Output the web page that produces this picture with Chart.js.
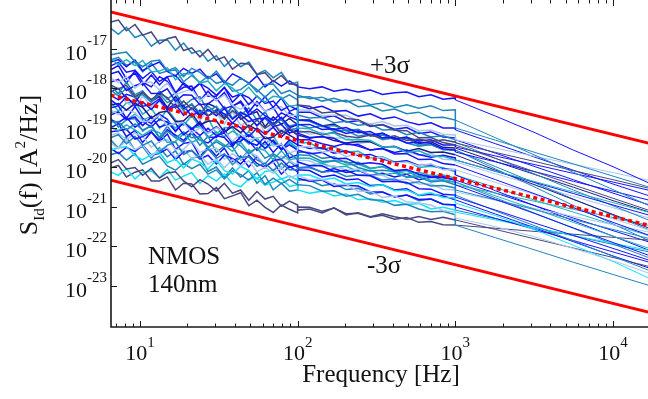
<!DOCTYPE html>
<html>
<head>
<meta charset="utf-8">
<title>NMOS 140nm drain current noise</title>
<script src="https://cdn.jsdelivr.net/npm/chart.js@4.4.1/dist/chart.umd.min.js"></script>
<style>
  html, body { margin: 0; padding: 0; background: #fff; overflow: hidden; }
  canvas { display: block; }
</style>
</head>
<body>
<canvas id="psdChart" width="648" height="399"></canvas>
<script>
// frequency grid [Hz]; 100 and 1000 appear twice where the measurement bands join
const freqHz = [6.5, 7.3, 8.2, 9.3, 10.4, 11.8, 13.3, 14.9, 16.8, 18.9, 21.3, 24, 27, 30.5, 34.3, 38.6, 43.5, 49, 55.2, 62.1, 70, 78.8, 88.7, 100,
  100, 119, 143, 170, 203, 242, 289, 345, 412, 492, 587, 700, 836, 1000,
  1000, 1800, 3200, 5600, 10000, 17000];

// log10 of S_Id [A^2/Hz], one array per device
const s01 = [-16.32, -16.27, -16.54, -16.38, -16.65, -16.57, -16.87, -16.74, -16.69, -17.04, -16.97, -17.20, -17.01, -17.28, -17.20, -17.51, -17.36, -17.38, -17.65, -17.60, -17.83, -17.67, -17.88, -17.91,
  -18.42, -18.45, -18.62, -18.59, -18.76, -18.79, -18.95, -18.92, -19.06, -19.07, -19.25, -19.24, -19.37, -19.43,
  -19.43, -19.77, -20.11, -20.44, -20.78, -21.09];
const s02 = [-16.47, -16.63, -16.45, -16.71, -16.63, -16.93, -16.78, -16.77, -17.03, -16.85, -17.11, -17.04, -17.31, -17.17, -17.44, -17.25, -17.45, -17.33, -17.64, -17.54, -17.73, -17.59, -17.89, -17.84,
  -18.17, -18.26, -18.22, -18.34, -18.30, -18.46, -18.43, -18.57, -18.52, -18.64, -18.60, -18.74, -18.73, -18.80,
  -19.00, -19.31, -19.62, -19.91, -20.22, -20.50];
const s03 = [-17.15, -17.11, -17.08, -17.32, -17.45, -17.31, -17.28, -17.55, -17.47, -17.70, -17.49, -17.59, -17.76, -17.56, -17.83, -17.92, -17.74, -17.86, -18.09, -17.90, -17.89, -18.13, -18.05, -18.17,
  -18.22, -18.21, -18.32, -18.25, -18.34, -18.28, -18.41, -18.37, -18.48, -18.41, -18.50, -18.44, -18.56, -18.54,
  -18.80, -19.25, -19.69, -20.12, -20.56, -20.97];
const s04 = [-17.23, -17.40, -17.27, -17.42, -17.29, -17.58, -17.56, -17.48, -17.78, -17.63, -17.62, -17.87, -17.81, -18.06, -17.87, -17.99, -18.16, -17.97, -18.21, -18.34, -18.20, -18.22, -18.45, -18.42,
  -19.00, -19.02, -19.15, -19.13, -19.30, -19.29, -19.32, -19.48, -19.47, -19.62, -19.58, -19.71, -19.72, -19.81,
  -19.81, -20.09, -20.36, -20.62, -20.89, -21.14];
const s05 = [-17.33, -17.27, -17.45, -17.28, -17.55, -17.42, -17.33, -17.57, -17.68, -17.49, -17.62, -17.51, -17.74, -17.63, -17.86, -17.63, -17.73, -17.87, -17.68, -17.96, -17.80, -17.94, -17.81, -17.95,
  -17.96, -18.01, -17.96, -18.07, -18.02, -18.09, -18.04, -18.15, -18.11, -18.09, -18.21, -18.16, -18.27, -18.24,
  -18.29, -18.70, -19.12, -19.56, -19.98, -20.40];
const s06 = [-17.43, -17.34, -17.59, -17.54, -17.75, -17.57, -17.82, -17.70, -17.67, -17.90, -18.05, -17.87, -17.99, -18.17, -17.98, -18.22, -18.14, -18.41, -18.19, -18.38, -18.32, -18.56, -18.44, -18.54,
  -18.80, -18.81, -18.94, -19.04, -18.99, -19.12, -19.09, -19.25, -19.25, -19.38, -19.36, -19.39, -19.53, -19.56,
  -19.61, -19.86, -20.11, -20.35, -20.60, -20.83];
const s07 = [-17.73, -17.85, -17.70, -17.99, -17.84, -17.84, -18.04, -17.86, -18.16, -18.08, -18.02, -18.31, -18.15, -18.30, -18.16, -18.43, -18.53, -18.37, -18.37, -18.58, -18.52, -18.46, -18.69, -18.67,
  -18.54, -18.55, -18.69, -18.67, -18.68, -18.82, -18.90, -18.84, -18.95, -18.93, -19.07, -19.05, -19.16, -19.18,
  -19.30, -19.51, -19.72, -19.92, -20.13, -20.33];
const s08 = [-17.84, -17.77, -18.05, -17.93, -17.86, -18.13, -18.12, -18.01, -18.33, -18.16, -18.17, -18.41, -18.39, -18.24, -18.51, -18.44, -18.35, -18.67, -18.52, -18.69, -18.81, -18.62, -18.72, -18.80,
  -19.13, -19.24, -19.22, -19.26, -19.42, -19.42, -19.56, -19.52, -19.66, -19.65, -19.80, -19.79, -19.90, -19.94,
  -19.94, -20.31, -20.67, -21.02, -21.39, -21.72];
const s09 = [-17.91, -18.01, -17.92, -18.21, -18.10, -18.28, -18.12, -18.23, -18.50, -18.32, -18.52, -18.38, -18.69, -18.59, -18.78, -18.56, -18.73, -18.99, -18.80, -19.01, -18.86, -19.15, -19.00, -19.18,
  -19.10, -19.09, -19.18, -19.11, -19.21, -19.25, -19.18, -19.26, -19.20, -19.32, -19.28, -19.35, -19.30, -19.36,
  -19.38, -19.62, -19.85, -20.08, -20.31, -20.53];
const s10 = [-18.29, -18.43, -18.21, -18.44, -18.34, -18.53, -18.30, -18.51, -18.40, -18.68, -18.49, -18.71, -18.53, -18.69, -18.51, -18.78, -18.61, -18.71, -18.94, -18.73, -18.90, -18.73, -18.99, -18.92,
  -19.30, -19.30, -19.40, -19.47, -19.39, -19.46, -19.56, -19.52, -19.62, -19.56, -19.67, -19.74, -19.69, -19.76,
  -19.81, -20.10, -20.38, -20.66, -20.95, -21.21];
const s11 = [-18.42, -18.38, -18.55, -18.38, -18.48, -18.75, -18.61, -18.57, -18.84, -18.82, -18.63, -18.92, -18.83, -18.82, -19.11, -18.96, -19.12, -18.93, -19.05, -19.27, -19.23, -19.06, -19.18, -19.30,
  -19.18, -19.26, -19.21, -19.32, -19.38, -19.34, -19.35, -19.48, -19.47, -19.59, -19.52, -19.62, -19.61, -19.68,
  -19.68, -20.07, -20.44, -20.81, -21.19, -21.54];
const s12 = [-18.54, -18.66, -18.53, -18.61, -18.85, -18.81, -18.67, -18.95, -18.87, -18.86, -19.14, -18.99, -19.14, -18.99, -19.09, -19.34, -19.14, -19.31, -19.25, -19.23, -19.46, -19.41, -19.63, -19.56,
  -19.48, -19.47, -19.61, -19.58, -19.72, -19.66, -19.77, -19.74, -19.89, -19.86, -19.96, -19.91, -20.06, -20.06,
  -20.06, -20.38, -20.69, -21.00, -21.30, -21.59];
const s13 = [-18.67, -18.60, -18.79, -18.72, -18.94, -18.72, -18.98, -18.91, -18.88, -19.17, -19.01, -19.19, -19.01, -19.19, -19.13, -19.38, -19.34, -19.17, -19.33, -19.52, -19.31, -19.55, -19.43, -19.56,
  -19.56, -19.65, -19.62, -19.78, -19.77, -19.91, -19.88, -19.92, -20.08, -20.05, -20.17, -20.24, -20.23, -20.32,
  -20.44, -20.81, -21.17, -21.53, -21.90, -22.23];
const s14 = [-18.85, -18.84, -19.05, -18.90, -19.05, -18.95, -19.26, -19.08, -19.25, -19.10, -19.25, -19.22, -19.49, -19.35, -19.47, -19.33, -19.45, -19.66, -19.50, -19.77, -19.65, -19.79, -19.63, -19.81,
  -19.68, -19.70, -19.85, -19.83, -19.85, -20.00, -20.09, -20.07, -20.10, -20.25, -20.24, -20.37, -20.34, -20.44,
  -20.57, -20.82, -21.07, -21.32, -21.57, -21.80];
const s15 = [-18.98, -19.07, -18.92, -19.05, -19.19, -19.05, -19.12, -19.37, -19.34, -19.15, -19.36, -19.28, -19.52, -19.30, -19.43, -19.59, -19.36, -19.62, -19.50, -19.57, -19.80, -19.58, -19.81, -19.76,
  -19.76, -19.77, -19.89, -19.83, -19.94, -19.92, -20.04, -19.97, -20.10, -20.16, -20.12, -20.21, -20.19, -20.27,
  -20.37, -20.72, -21.06, -21.39, -21.74, -22.05];
const s16 = [-19.10, -19.07, -19.03, -19.28, -19.22, -19.10, -19.31, -19.04, -19.18, -19.32, -19.10, -19.31, -19.38, -19.20, -19.24, -19.47, -19.21, -19.37, -19.44, -19.22, -19.35, -19.53, -19.30, -19.43,
  -19.86, -19.96, -19.96, -20.11, -20.07, -20.20, -20.21, -20.36, -20.35, -20.38, -20.54, -20.55, -20.68, -20.70,
  -20.75, -21.08, -21.41, -21.72, -22.05, -22.35];
const s17 = [-19.25, -19.17, -19.40, -19.21, -19.44, -19.33, -19.60, -19.44, -19.35, -19.67, -19.56, -19.76, -19.53, -19.77, -19.65, -19.93, -19.74, -19.73, -19.97, -19.89, -20.08, -19.89, -20.06, -20.06,
  -20.01, -20.00, -20.12, -20.09, -20.23, -20.19, -20.20, -20.32, -20.29, -20.41, -20.36, -20.47, -20.46, -20.52,
  -20.70, -21.10, -21.48, -21.86, -22.25, -22.61];
const s18 = [-19.38, -19.52, -19.31, -19.55, -19.44, -19.72, -19.54, -19.51, -19.74, -19.54, -19.77, -19.68, -19.92, -19.77, -20.01, -19.80, -19.97, -19.83, -20.11, -19.99, -20.15, -19.99, -20.26, -20.19,
  -20.20, -20.32, -20.30, -20.43, -20.43, -20.60, -20.60, -20.76, -20.72, -20.87, -20.90, -20.95, -21.09, -21.13,
  -21.28, -21.50, -21.76, -22.05, -22.36, -22.68];
const s19 = [-19.56, -19.51, -19.47, -19.70, -19.81, -19.67, -19.62, -19.88, -19.79, -20.01, -19.79, -19.87, -20.04, -19.82, -20.08, -20.17, -19.97, -20.08, -20.29, -20.10, -20.07, -20.30, -20.21, -20.32,
  -20.19, -20.19, -20.31, -20.27, -20.42, -20.38, -20.48, -20.44, -20.59, -20.57, -20.70, -20.64, -20.76, -20.77,
  -20.90, -21.22, -21.58, -21.97, -22.38, -22.81];
const s20 = [-19.51, -19.65, -19.49, -19.60, -19.43, -19.69, -19.64, -19.53, -19.80, -19.61, -19.57, -19.79, -19.69, -19.91, -19.69, -19.77, -19.91, -19.69, -19.90, -20.00, -19.82, -19.80, -20.00, -19.94,
  -20.27, -20.35, -20.32, -20.48, -20.45, -20.47, -20.62, -20.62, -20.75, -20.70, -20.81, -20.80, -20.93, -20.95,
  -21.00, -21.29, -21.57, -21.85, -22.14, -22.40];
const s21 = [-19.68, -19.62, -19.82, -19.65, -19.92, -19.81, -19.72, -19.96, -20.07, -19.90, -20.03, -19.92, -20.17, -20.06, -20.29, -20.08, -20.18, -20.32, -20.13, -20.43, -20.27, -20.41, -20.30, -20.44,
  -20.44, -20.46, -20.60, -20.59, -20.73, -20.68, -20.82, -20.83, -20.96, -20.93, -21.05, -21.12, -21.11, -21.20,
  -21.46, -21.78, -22.09, -22.40, -22.71, -22.99];
const s22 = [-19.89, -19.80, -20.04, -20.00, -20.20, -20.02, -20.27, -20.14, -20.11, -20.34, -20.49, -20.31, -20.42, -20.60, -20.40, -20.65, -20.57, -20.83, -20.61, -20.80, -20.73, -20.98, -20.85, -20.95,
  -21.08, -21.05, -21.15, -21.02, -21.20, -21.15, -21.25, -21.17, -21.25, -21.31, -21.24, -21.32, -21.26, -21.33,
  -21.33, -21.57, -21.81, -22.04, -22.28, -22.51];
const s23 = [-20.11, -20.20, -20.03, -20.29, -20.12, -20.09, -20.26, -20.05, -20.32, -20.22, -20.13, -20.40, -20.21, -20.34, -20.17, -20.41, -20.49, -20.29, -20.27, -20.45, -20.37, -20.28, -20.48, -20.44,
  -20.57, -20.65, -20.60, -20.72, -20.67, -20.82, -20.79, -20.88, -20.84, -20.94, -20.91, -21.05, -21.01, -21.08,
  -21.13, -21.33, -21.53, -21.72, -21.92, -22.10];
const s24 = [-20.01, -19.95, -20.24, -20.12, -20.06, -20.34, -20.34, -20.24, -20.57, -20.40, -20.42, -20.67, -20.66, -20.51, -20.79, -20.72, -20.64, -20.97, -20.83, -21.01, -21.14, -20.95, -21.06, -21.15,
  -21.00, -21.01, -21.11, -21.03, -21.17, -21.16, -21.26, -21.21, -21.31, -21.27, -21.39, -21.37, -21.45, -21.46,
  -21.46, -21.54, -21.62, -21.69, -21.77, -21.84];
const s25 = [-18.80, -18.86, -18.73, -18.98, -18.84, -18.97, -18.78, -18.85, -19.08, -18.86, -19.03, -18.84, -19.12, -18.97, -19.13, -18.87, -19.00, -19.22, -19.00, -19.16, -18.98, -19.23, -19.04, -19.18,
  -18.92, -18.91, -19.04, -19.02, -19.14, -19.08, -19.19, -19.13, -19.28, -19.24, -19.33, -19.30, -19.43, -19.43,
  -19.48, -19.71, -19.93, -20.15, -20.37, -20.58];
const s26 = [-18.04, -18.19, -17.99, -18.24, -18.15, -18.35, -18.14, -18.36, -18.26, -18.56, -18.39, -18.62, -18.45, -18.62, -18.46, -18.75, -18.59, -18.70, -18.95, -18.75, -18.93, -18.78, -19.06, -19.00,
  -18.67, -18.75, -18.73, -18.87, -18.83, -18.93, -18.90, -19.05, -19.04, -19.17, -19.11, -19.23, -19.20, -19.30,
  -19.36, -19.77, -20.17, -20.57, -20.97, -21.34];
const s27 = [-19.18, -19.13, -19.30, -19.13, -19.22, -19.49, -19.34, -19.29, -19.55, -19.54, -19.34, -19.62, -19.53, -19.51, -19.79, -19.65, -19.80, -19.60, -19.71, -19.93, -19.88, -19.71, -19.83, -19.94,
  -19.81, -19.83, -19.98, -19.96, -20.07, -20.04, -20.20, -20.20, -20.34, -20.29, -20.42, -20.42, -20.55, -20.57,
  -20.62, -20.83, -21.04, -21.24, -21.45, -21.64];
const s28 = [-18.17, -18.29, -18.15, -18.22, -18.45, -18.41, -18.26, -18.54, -18.46, -18.43, -18.71, -18.55, -18.70, -18.54, -18.64, -18.88, -18.67, -18.84, -18.77, -18.75, -18.97, -18.91, -19.13, -19.05,
  -19.43, -19.52, -19.50, -19.64, -19.58, -19.70, -19.67, -19.79, -19.87, -19.83, -19.95, -19.93, -20.04, -20.06,
  -20.19, -20.59, -20.97, -21.35, -21.74, -22.10];
const s29 = [-17.28, -17.21, -17.41, -17.34, -17.58, -17.36, -17.62, -17.56, -17.53, -17.83, -17.67, -17.85, -17.69, -17.87, -17.81, -18.07, -18.03, -17.87, -18.03, -18.22, -18.03, -18.27, -18.16, -18.29,
  -18.80, -18.83, -18.97, -18.94, -19.05, -19.04, -19.21, -19.18, -19.30, -19.27, -19.43, -19.42, -19.53, -19.56,
  -19.56, -20.04, -20.50, -20.96, -21.43, -21.86];
const s30 = [-18.60, -18.59, -18.80, -18.65, -18.80, -18.70, -19.01, -18.83, -19.00, -18.85, -19.00, -18.97, -19.24, -19.10, -19.22, -19.08, -19.20, -19.41, -19.25, -19.52, -19.40, -19.54, -19.38, -19.56,
  -19.86, -19.95, -19.90, -20.00, -19.97, -20.10, -20.08, -20.19, -20.14, -20.24, -20.19, -20.33, -20.31, -20.37,
  -20.44, -20.65, -20.86, -21.06, -21.27, -21.47];
const s31 = [-17.53, -17.42, -17.76, -17.61, -17.92, -17.66, -17.91, -17.71, -18.10, -17.97, -17.94, -18.31, -18.07, -18.30, -18.10, -18.46, -18.32, -18.60, -18.33, -18.58, -18.48, -18.80, -18.61, -18.75,
  -18.60, -18.60, -18.74, -18.69, -18.85, -18.82, -18.96, -18.91, -19.03, -18.99, -19.14, -19.10, -19.23, -19.25,
  -19.30, -19.64, -19.98, -20.31, -20.65, -20.95];
const s32 = [-17.94, -18.13, -17.84, -18.16, -18.06, -18.34, -18.06, -18.27, -18.11, -18.44, -18.28, -18.21, -18.58, -18.45, -18.70, -18.45, -18.68, -18.49, -18.80, -18.59, -18.94, -18.76, -18.95, -18.90,
  -18.90, -19.00, -18.94, -19.08, -19.06, -19.21, -19.15, -19.30, -19.25, -19.38, -19.46, -19.42, -19.55, -19.56,
  -19.56, -19.98, -20.39, -20.80, -21.21, -21.58];
const s33 = [-18.49, -18.44, -18.76, -18.46, -18.76, -18.89, -18.65, -18.78, -19.09, -18.85, -19.04, -18.89, -19.23, -19.24, -19.03, -19.43, -19.23, -19.33, -19.57, -19.34, -19.62, -19.40, -19.76, -19.68,
  -20.01, -19.99, -20.12, -20.03, -20.13, -20.07, -20.20, -20.15, -20.24, -20.17, -20.31, -20.25, -20.26, -20.32,
  -20.32, -20.65, -20.97, -21.28, -21.60, -21.89];
const s34 = [-18.75, -18.98, -18.79, -18.76, -19.08, -18.93, -19.24, -18.95, -19.24, -19.37, -19.14, -19.44, -19.21, -19.61, -19.46, -19.47, -19.81, -19.55, -19.81, -19.91, -19.68, -20.04, -19.85, -20.01,
  -19.61, -19.62, -19.77, -19.73, -19.89, -19.87, -20.02, -19.98, -20.11, -20.08, -20.24, -20.20, -20.34, -20.37,
  -20.37, -20.77, -21.16, -21.54, -21.94, -22.29];
const s35 = [-18.19, -18.10, -18.36, -18.48, -18.19, -18.45, -18.32, -18.61, -18.33, -18.65, -18.54, -18.81, -18.53, -18.62, -18.90, -18.59, -18.93, -18.83, -18.75, -19.13, -18.89, -19.08, -18.94, -19.10,
  -19.05, -19.16, -19.11, -19.26, -19.24, -19.40, -19.35, -19.50, -19.46, -19.60, -19.69, -19.65, -19.79, -19.81,
  -19.86, -20.16, -20.45, -20.73, -21.02, -21.28];
const s36 = [-19.00, -18.89, -19.22, -19.06, -19.37, -19.10, -19.35, -19.15, -19.54, -19.39, -19.36, -19.73, -19.48, -19.71, -19.51, -19.85, -19.71, -19.99, -19.72, -19.96, -19.86, -20.17, -19.97, -20.11,
  -20.06, -20.08, -20.24, -20.19, -20.31, -20.29, -20.46, -20.44, -20.57, -20.54, -20.71, -20.68, -20.72, -20.82,
  -20.82, -21.18, -21.53, -21.88, -22.24, -22.55];
const s37 = [-19.30, -19.51, -19.23, -19.56, -19.47, -19.77, -19.50, -19.73, -19.58, -19.92, -19.77, -19.72, -20.10, -19.99, -20.25, -20.01, -20.25, -20.08, -20.40, -20.21, -20.57, -20.40, -20.60, -20.57,
  -20.32, -20.32, -20.46, -20.41, -20.56, -20.53, -20.67, -20.62, -20.74, -20.70, -20.84, -20.80, -20.93, -20.95,
  -21.08, -21.30, -21.52, -21.73, -21.95, -22.14];
const s38 = [-17.63, -17.57, -17.87, -17.55, -17.84, -17.96, -17.70, -17.82, -18.12, -17.86, -18.03, -17.87, -18.20, -18.20, -17.97, -18.35, -18.14, -18.23, -18.45, -18.21, -18.48, -18.24, -18.58, -18.49,
  -18.42, -18.51, -18.45, -18.58, -18.56, -18.70, -18.64, -18.77, -18.72, -18.84, -18.92, -18.87, -19.00, -19.00,
  -19.05, -19.40, -19.74, -20.07, -20.42, -20.72];
const s39 = [-18.34, -18.57, -18.37, -18.34, -18.65, -18.50, -18.81, -18.52, -18.80, -18.93, -18.69, -18.99, -18.75, -19.15, -18.99, -19.00, -19.33, -19.08, -19.33, -19.43, -19.19, -19.55, -19.35, -19.51,
  -19.36, -19.38, -19.54, -19.48, -19.61, -19.59, -19.76, -19.73, -19.86, -19.83, -20.00, -19.97, -20.01, -20.11,
  -20.19, -20.51, -20.83, -21.13, -21.45, -21.73];
const s40 = [-18.09, -18.00, -18.25, -18.37, -18.07, -18.33, -18.20, -18.48, -18.20, -18.51, -18.40, -18.67, -18.38, -18.48, -18.76, -18.44, -18.78, -18.67, -18.59, -18.97, -18.72, -18.91, -18.76, -18.92,
  -18.80, -18.80, -18.95, -18.90, -19.07, -19.04, -19.19, -19.14, -19.27, -19.23, -19.39, -19.35, -19.49, -19.51,
  -19.51, -19.85, -20.18, -20.50, -20.84, -21.13];

// mean and +/-3 sigma bounds, log10 of S_Id at both ends of the axis
const sigmaFreq = [6.5, 17000];
const plus3Sigma = [-16.06, -19.39];
const meanLevel = [-18.17, -21.47];
const minus3Sigma = [-20.32, -23.67];

const xTickExp = [1, 2, 3, 4];
const yTickExp = [-17, -18, -19, -20, -21, -22, -23];

const slate = '#474780', steel = '#1f86bd', teal = '#22b0c0', blue = '#1414ff',
      pale = '#a9c6ee', navy = '#1c1c8c', cyan = '#12e4f4';

const sweeps = [s01, s02, s03, s04, s05, s06, s07, s08, s09, s10, s11, s12, s13, s14, s15, s16, s17, s18, s19, s20,
                s21, s22, s23, s24, s25, s26, s27, s28, s29, s30, s31, s32, s33, s34, s35, s36, s37, s38, s39, s40];
const sweepColors = [slate, steel, steel, teal, blue, blue, pale, blue, slate, blue, navy, pale, blue, steel, teal,
                     blue, steel, pale, cyan, blue, steel, slate, cyan, slate, blue, steel, pale, blue, steel, teal,
                     blue, steel, blue, steel, pale, blue, steel, blue, teal, navy];

const X_MIN = 6.55, X_MAX = 16670, Y_MIN = 9.12e-25, Y_MAX = 1.738e-16;
const SERIF = '"Liberation Serif", "Times New Roman", serif';

function toPoints(freqs, exps) {
    return freqs.map((f, i) => ({ x: f, y: Math.pow(10, exps[i]) }));
}

const datasets = [
    { data: toPoints(sigmaFreq, plus3Sigma), borderColor: '#ff0000', borderWidth: 3, order: 0 },
    { data: toPoints(sigmaFreq, minus3Sigma), borderColor: '#ff0000', borderWidth: 3, order: 0 },
    { data: toPoints(sigmaFreq, meanLevel), borderColor: '#ff0000', borderWidth: 3.5, borderDash: [4, 3.5], order: 0 }
];
sweeps.forEach((s, i) => {
    datasets.push({
        data: toPoints(freqHz, s),
        borderColor: sweepColors[i],
        borderWidth: 1.2,
        order: 1,
        // the noisy low-frequency bands look heavier than the smooth high band
        segment: { borderWidth: c => (c.p0.parsed.x >= 1000 && c.p1.parsed.x > 1000 ? 1 : 1.5) }
    });
});

// draws 10^n with a raised exponent
function powerLabel(ctx, exp, px, baseline, supRise, alignRight) {
    ctx.font = '22px ' + SERIF;
    const wBase = ctx.measureText('10').width;
    ctx.font = '15px ' + SERIF;
    const wExp = ctx.measureText(exp).width;
    const left = alignRight ? px - wBase - wExp : px - (wBase + wExp) / 2;
    ctx.font = '22px ' + SERIF;
    ctx.fillText('10', left, baseline);
    ctx.font = '15px ' + SERIF;
    ctx.fillText(exp, left + wBase, baseline - supRise);
}

const frame = {
    id: 'frame',
    afterDraw(chart) {
        const { ctx, chartArea: area, scales } = chart;
        const x = scales.x, y = scales.y;
        ctx.save();

        // inward ticks, bottom and top
        ctx.strokeStyle = '#1a1a1a';
        ctx.lineWidth = 1;
        ctx.beginPath();
        [1, 10, 100, 1000, 10000].forEach(dec => {
            for (let m = 1; m < 10; m++) {
                const v = dec * m;
                if (v < X_MIN || v > X_MAX) continue;
                const px = Math.round(x.getPixelForValue(v)) + 0.5;
                const len = m === 1 ? 6 : 3.5;
                ctx.moveTo(px, area.bottom); ctx.lineTo(px, area.bottom - len);
                ctx.moveTo(px, area.top); ctx.lineTo(px, area.top + len);
            }
        });
        yTickExp.forEach(e => {
            const py = Math.round(y.getPixelForValue(Math.pow(10, e))) + 0.5;
            ctx.moveTo(area.left, py); ctx.lineTo(area.left + 6, py);
        });
        ctx.stroke();

        ctx.lineWidth = 1.6;
        ctx.beginPath();
        ctx.moveTo(area.left, area.top);
        ctx.lineTo(area.left, area.bottom);
        ctx.lineTo(area.right, area.bottom);
        ctx.stroke();

        // tick labels
        ctx.fillStyle = '#111';
        ctx.textAlign = 'left';
        ctx.textBaseline = 'alphabetic';
        xTickExp.forEach(e => {
            powerLabel(ctx, String(e), x.getPixelForValue(Math.pow(10, e)), 360, 13, false);
        });
        yTickExp.forEach(e => {
            powerLabel(ctx, String(e), 107, y.getPixelForValue(Math.pow(10, e)) + 11, 15, true);
        });

        // axis titles
        ctx.font = '25px ' + SERIF;
        ctx.textAlign = 'center';
        ctx.fillText('Frequency [Hz]', 381, 382);

        ctx.save();
        ctx.translate(37, 165);
        ctx.rotate(-Math.PI / 2);
        ctx.textAlign = 'left';
        const parts = [
            { t: 'S', size: 26, dy: 0 },
            { t: 'Id', size: 15, dy: 7 },
            { t: '(f) [A', size: 26, dy: 0 },
            { t: '2', size: 15, dy: -12 },
            { t: '/Hz]', size: 26, dy: 0 }
        ];
        let total = 0;
        parts.forEach(p => { ctx.font = p.size + 'px ' + SERIF; p.w = ctx.measureText(p.t).width; total += p.w; });
        let cx = -total / 2;
        parts.forEach(p => {
            ctx.font = p.size + 'px ' + SERIF;
            ctx.fillText(p.t, cx, p.dy);
            cx += p.w;
        });
        ctx.restore();

        // annotations
        ctx.font = '25px ' + SERIF;
        ctx.textAlign = 'left';
        ctx.fillText('+3σ', 370, 73);
        ctx.fillText('-3σ', 367, 273);
        ctx.fillText('NMOS', 148, 264);
        ctx.fillText('140nm', 148, 292);

        ctx.restore();
    }
};

new Chart(document.getElementById('psdChart').getContext('2d'), {
    type: 'line',
    data: { datasets: datasets },
    options: {
        responsive: false,
        animation: false,
        events: [],
        elements: { point: { radius: 0 }, line: { tension: 0, fill: false } },
        layout: { padding: 0 },
        plugins: { legend: { display: false }, tooltip: { enabled: false }, title: { display: false } },
        scales: {
            x: {
                type: 'logarithmic',
                position: 'bottom',
                min: X_MIN,
                max: X_MAX,
                bounds: 'data',
                ticks: { display: false },
                grid: { display: false },
                border: { display: false },
                afterBuildTicks: s => { s.min = X_MIN; s.max = X_MAX; },
                afterFit: s => { s.height = 72; }
            },
            y: {
                type: 'logarithmic',
                position: 'left',
                min: Y_MIN,
                max: Y_MAX,
                bounds: 'data',
                ticks: { display: false },
                grid: { display: false },
                border: { display: false },
                afterBuildTicks: s => { s.min = Y_MIN; s.max = Y_MAX; },
                afterFit: s => { s.width = 111; }
            }
        }
    },
    plugins: [frame]
});
</script>
</body>
</html>
